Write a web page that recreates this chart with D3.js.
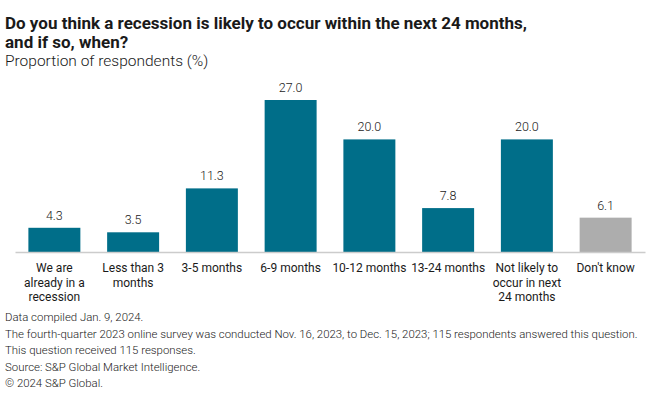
<!DOCTYPE html>
<html lang="en">
<head>
    <meta charset="UTF-8">
    <title>Recession timing survey</title>
    <script src="https://d3js.org/d3.v7.min.js"></script>
    <style>
        body { margin: 0; background: #fff; }
        text { font-family: Roboto, "Liberation Sans", sans-serif; fill: #1a1a1a; }
    </style>
</head>
<body>

<div id="chart-container"></div>

<script>
    // data
    const categories = [
        "We are already in a recession",
        "Less than 3 months",
        "3-5 months",
        "6-9 months",
        "10-12 months",
        "13-24 months",
        "Not likely to occur in next 24 months",
        "Don't know"
    ];
    const tickLabels = [
        ["We are", "already in a", "recession"],
        ["Less than 3", "months"],
        ["3-5 months"],
        ["6-9 months"],
        ["10-12 months"],
        ["13-24 months"],
        ["Not likely to", "occur in next", "24 months"],
        ["Don't know"]
    ];
    const values = [4.3, 3.5, 11.3, 27.0, 20.0, 7.8, 20.0, 6.1];
    const footnotes = [
        "Data compiled Jan. 9, 2024.",
        "The fourth-quarter 2023 online survey was conducted Nov. 16, 2023, to Dec. 15, 2023; 115 respondents answered this question.",
        "This question received 115 responses.",
        "Source: S&P Global Market Intelligence.",
        "\u00a9 2024 S&P Global."
    ];

    const width = 660;
    const height = 397;
    const baseline = 252;

    const svg = d3.select("#chart-container")
        .append("svg")
        .attr("width", width)
        .attr("height", height);

    // titles
    svg.append("text")
        .attr("x", 5).attr("y", 29)
        .attr("font-size", 17).attr("font-weight", "bold")
        .text("Do you think a recession is likely to occur within the next 24 months,");
    svg.append("text")
        .attr("x", 5).attr("y", 48)
        .attr("font-size", 17).attr("font-weight", "bold")
        .text("and if so, when?");
    svg.append("text")
        .attr("x", 5).attr("y", 66)
        .attr("font-size", 15.5).attr("font-weight", 300)
        .text("Proportion of respondents (%)");

    const x = d3.scaleBand()
        .domain(categories)
        .range([15, 645])
        .paddingInner(0.34)
        .paddingOuter(0.17);

    const y = d3.scaleLinear()
        .domain([0, 27])
        .range([baseline, 100]);

    const color = (d, i) => i === categories.length - 1 ? "#adadad" : "#006e89";

    svg.selectAll(".bar")
        .data(values)
        .enter()
        .append("rect")
        .attr("class", "bar")
        .attr("x", (d, i) => x(categories[i]))
        .attr("width", x.bandwidth())
        .attr("y", d => y(d))
        .attr("height", d => baseline - y(d))
        .attr("fill", color);

    svg.selectAll(".value")
        .data(values)
        .enter()
        .append("text")
        .attr("class", "value")
        .attr("x", (d, i) => x(categories[i]) + x.bandwidth() / 2)
        .attr("y", d => y(d) - 8)
        .attr("text-anchor", "middle")
        .attr("font-size", 12.5)
        .attr("font-weight", 300)
        .text(d => d.toFixed(1));

    // axis
    const axis = svg.append("g")
        .attr("transform", `translate(0,${baseline})`)
        .call(d3.axisBottom(x).tickSize(0).tickFormat(""));
    axis.select(".domain").attr("stroke", "#cccccc").attr("stroke-width", 1.5);

    const ticks = svg.selectAll(".tick-label")
        .data(tickLabels)
        .enter()
        .append("text")
        .attr("class", "tick-label")
        .attr("text-anchor", "middle")
        .attr("font-size", 12)
        .attr("x", (d, i) => x(categories[i]) + x.bandwidth() / 2)
        .attr("y", 272);
    ticks.selectAll("tspan")
        .data(d => d)
        .enter()
        .append("tspan")
        .attr("x", function () { return d3.select(this.parentNode).attr("x"); })
        .attr("dy", (d, i) => i === 0 ? 0 : 14.5)
        .text(d => d);

    svg.selectAll(".foot")
        .data(footnotes)
        .enter()
        .append("text")
        .attr("class", "foot")
        .attr("x", 5)
        .attr("y", (d, i) => 321 + i * 16.6)
        .attr("font-size", 11.4)
        .attr("font-weight", 300)
        .text(d => d);
</script>
</body>
</html>
